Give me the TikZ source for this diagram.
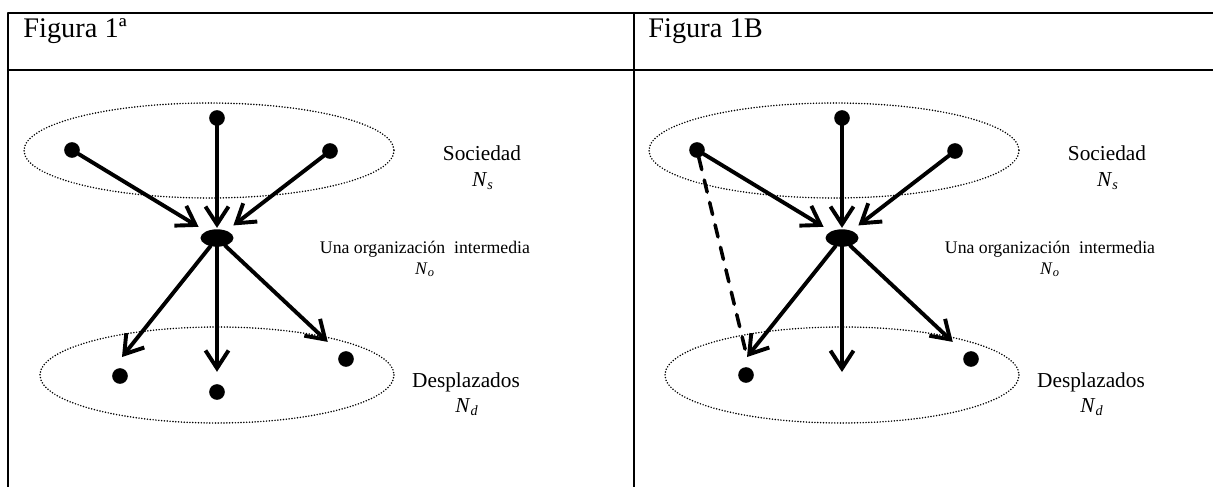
\documentclass[tikz,border=0pt]{standalone}
\usepackage{fontspec}
\setmainfont{Liberation Serif}
\usetikzlibrary{arrows.meta,shapes.geometric}

\begin{document}
\begin{tikzpicture}[line cap=round,line join=round,x=0.0198cm,y=-0.0198cm,
	>={Straight Barb[length=10pt,width=13pt]},
	punto/.style={circle,fill,inner sep=0pt,outer sep=0pt,minimum size=8.8pt},
	nodo/.style={ellipse,fill,inner sep=0pt,outer sep=0pt,minimum width=18.6pt,minimum height=9.8pt},
	flecha/.style={->,line width=2.2pt},
	guion/.style={line width=2pt,dash pattern=on 7pt off 6pt},
	anillo/.style={line width=0.95pt,dash pattern=on 0pt off 1.6pt},
	rotulo/.style={anchor=base,inner sep=0pt,font=\fontsize{12}{14}\selectfont},
	chico/.style={anchor=base,inner sep=0pt,font=\fontsize{10}{12}\selectfont},
	titulo/.style={anchor=base west,inner sep=0pt,font=\fontsize{16}{19}\selectfont}]
		\useasboundingbox (0.,0.) rectangle (1213.,487.);
		% tabla
		\draw [line width=1.2pt] (8.,487.)-- (8.,13.)-- (1213.,13.);
		\draw [line width=1.2pt] (8.,70.)-- (1213.,70.);
		\draw [line width=1.2pt] (634.,13.)-- (634.,487.);
		\node[titulo] (fa) at (23.,37.) {Figura 1ª};
		\node[titulo] (fb) at (648.,37.) {Figura 1B};
		% figura A
		\draw [anillo] (209.,150.5) ellipse [x radius=185,y radius=47.5];
		\draw [anillo] (217.,375.) ellipse [x radius=177,y radius=48];
		\node[punto] (sa1) at (72.,150.) {};
		\node[punto] (sa2) at (217.,118.) {};
		\node[punto] (sa3) at (330.,151.) {};
		\node[nodo] (oa) at (217.,238.) {};
		\node[punto] (da1) at (120.,376.) {};
		\node[punto] (da2) at (217.,392.) {};
		\node[punto] (da3) at (346.,359.) {};
		\coordinate (ta1) at (122.,357.);
		\draw [flecha,shorten >=5pt] (sa1)-- (oa);
		\draw [flecha,shorten >=0.8pt] (sa2)-- (oa);
		\draw [flecha,shorten >=5pt] (sa3)-- (oa);
		\draw [flecha] (oa)-- (ta1);
		\draw [flecha,shorten >=7pt] (oa)-- (da2);
		\draw [flecha,shorten >=9.7pt] (oa)-- (da3);
		\node[rotulo] (soca) at (482.,160.) {Sociedad};
		\node[rotulo] (nsa) at (483.,186.) {\textit{N}\textsubscript{\textit{s}}};
		\node[chico] (orga) at (425.,253.) {Una organización~ intermedia};
		\node[chico] (noa) at (425.,274.) {\textit{N}\textsubscript{\textit{o}}};
		\node[rotulo] (desa) at (466.,387.) {Desplazados};
		\node[rotulo] (nda) at (467.,412.) {\textit{N}\textsubscript{\textit{d}}};
		% figura B
		\draw [anillo] (834.,150.5) ellipse [x radius=185,y radius=47.5];
		\draw [anillo] (842.,375.) ellipse [x radius=177,y radius=48];
		\node[punto] (sb1) at (697.,150.) {};
		\node[punto] (sb2) at (842.,118.) {};
		\node[punto] (sb3) at (955.,151.) {};
		\node[nodo] (ob) at (842.,238.) {};
		\node[punto] (db1) at (746.,375.) {};
		\node[punto] (db3) at (971.,359.) {};
		\coordinate (tb1) at (747.,357.);
		\coordinate (qb2) at (842.,372.);
		\draw [flecha,shorten >=5pt] (sb1)-- (ob);
		\draw [flecha,shorten >=0.8pt] (sb2)-- (ob);
		\draw [flecha,shorten >=5pt] (sb3)-- (ob);
		\draw [flecha] (ob)-- (tb1);
		\draw [flecha] (ob)-- (qb2);
		\draw [flecha,shorten >=9.7pt] (ob)-- (db3);
		\draw [guion] (sb1)-- (tb1);
		\node[rotulo] (socb) at (1107.,160.) {Sociedad};
		\node[rotulo] (nsb) at (1108.,186.) {\textit{N}\textsubscript{\textit{s}}};
		\node[chico] (orgb) at (1050.,253.) {Una organización~ intermedia};
		\node[chico] (nob) at (1050.,274.) {\textit{N}\textsubscript{\textit{o}}};
		\node[rotulo] (desb) at (1091.,387.) {Desplazados};
		\node[rotulo] (ndb) at (1092.,412.) {\textit{N}\textsubscript{\textit{d}}};
\end{tikzpicture}
\end{document}
